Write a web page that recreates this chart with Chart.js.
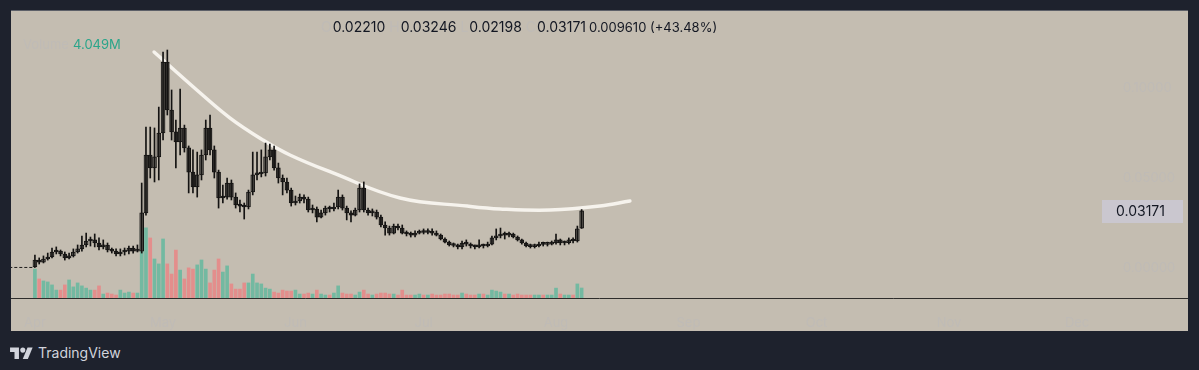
<!DOCTYPE html>
<html>
<head>
<meta charset="utf-8">
<script src="https://cdn.jsdelivr.net/npm/chart.js@4"></script>
<style>
  html, body { margin: 0; padding: 0; width: 1199px; height: 370px; overflow: hidden; background: #1e222d; font-family: Inter, "Noto Sans", sans-serif; }
  #panel { position: absolute; left: 11px; top: 10px; width: 1177px; height: 321px; background: #c4bdb1; border-top: 1px solid #5d6068; box-sizing: border-box; }
  #panel canvas { position: absolute; left: 0; top: 0; }
  #brand { position: absolute; left: 10px; top: 343px; height: 18px; display: flex; align-items: center; color: #d1d4dc; font-size: 14px; }
  #brand svg { margin-right: 5px; }
</style>
</head>
<body>
<div id="panel"><canvas id="chart" width="1177" height="320"></canvas></div>
<div id="brand">
  <svg width="23" height="14" viewBox="0 0 36 22"><path fill="#d1d4dc" d="M14 22H7V11H0V4h14v18z"/><circle fill="#d1d4dc" cx="20" cy="8" r="4"/><path fill="#d1d4dc" d="M28 22h-8l7.5-18h8L28 22z"/></svg>
  <span>TradingView</span>
</div>
<script>
// daily candles, index 0 = 1 Apr
const opens = [
  0.0006,0.0044,0.0033,0.0050,0.0061,0.0089,0.0094,0.0078,0.0056,0.0067,
  0.0089,0.0106,0.0128,0.0150,0.0156,0.0139,0.0117,0.0128,0.0100,0.0094,
  0.0078,0.0089,0.0094,0.0111,0.0094,0.0094,0.0306,0.0628,0.0556,0.0617,
  0.0750,0.1144,0.0878,0.0756,0.0700,0.0778,0.0667,0.0533,0.0450,0.0517,
  0.0628,0.0778,0.0656,0.0533,0.0389,0.0394,0.0472,0.0394,0.0350,0.0344,
  0.0339,0.0422,0.0517,0.0522,0.0528,0.0617,0.0656,0.0556,0.0500,0.0478,
  0.0433,0.0361,0.0372,0.0394,0.0383,0.0322,0.0328,0.0283,0.0306,0.0333,
  0.0328,0.0339,0.0394,0.0333,0.0306,0.0294,0.0322,0.0444,0.0322,0.0306,
  0.0311,0.0283,0.0239,0.0222,0.0194,0.0233,0.0222,0.0194,0.0189,0.0183,
  0.0194,0.0200,0.0197,0.0200,0.0194,0.0183,0.0161,0.0144,0.0128,0.0125,
  0.0117,0.0139,0.0133,0.0122,0.0117,0.0128,0.0122,0.0133,0.0167,0.0178,
  0.0189,0.0183,0.0189,0.0172,0.0156,0.0139,0.0122,0.0119,0.0122,0.0133,
  0.0131,0.0133,0.0139,0.0156,0.0139,0.0141,0.0156,0.0150,0.02210
];
const highs = [
  0.0072,0.0056,0.0067,0.0083,0.0111,0.0117,0.0100,0.0089,0.0083,0.0106,
  0.0128,0.0178,0.0194,0.0172,0.0189,0.0167,0.0156,0.0139,0.0111,0.0106,
  0.0106,0.0111,0.0122,0.0122,0.0128,0.0472,0.0783,0.0783,0.0778,0.0894,
  0.1200,0.1211,0.0989,0.0822,0.0994,0.0794,0.0678,0.0656,0.0644,0.0656,
  0.0822,0.0850,0.0678,0.0544,0.0461,0.0500,0.0489,0.0417,0.0378,0.0361,
  0.0433,0.0644,0.0644,0.0656,0.0694,0.0689,0.0678,0.0583,0.0517,0.0500,
  0.0444,0.0400,0.0411,0.0406,0.0394,0.0350,0.0339,0.0322,0.0344,0.0344,
  0.0361,0.0433,0.0406,0.0344,0.0317,0.0333,0.0467,0.0478,0.0333,0.0328,
  0.0322,0.0294,0.0256,0.0233,0.0244,0.0244,0.0239,0.0206,0.0200,0.0206,
  0.0211,0.0217,0.0217,0.0217,0.0206,0.0189,0.0167,0.0150,0.0139,0.0133,
  0.0150,0.0156,0.0139,0.0128,0.0156,0.0133,0.0144,0.0178,0.0217,0.0222,
  0.0200,0.0200,0.0194,0.0178,0.0161,0.0144,0.0133,0.0133,0.0144,0.0144,
  0.0144,0.0150,0.0189,0.0161,0.0150,0.0167,0.0167,0.0233,0.03246
];
const lows = [
  0.0003,0.0022,0.0028,0.0044,0.0056,0.0078,0.0067,0.0044,0.0050,0.0061,
  0.0083,0.0094,0.0117,0.0122,0.0117,0.0100,0.0106,0.0089,0.0083,0.0067,
  0.0067,0.0072,0.0078,0.0083,0.0089,0.0083,0.0294,0.0500,0.0478,0.0489,
  0.0711,0.0850,0.0711,0.0556,0.0628,0.0644,0.0417,0.0417,0.0394,0.0489,
  0.0600,0.0628,0.0500,0.0333,0.0361,0.0383,0.0378,0.0333,0.0311,0.0272,
  0.0328,0.0406,0.0489,0.0506,0.0511,0.0600,0.0544,0.0472,0.0406,0.0417,
  0.0344,0.0350,0.0361,0.0361,0.0311,0.0306,0.0256,0.0278,0.0294,0.0311,
  0.0317,0.0328,0.0322,0.0267,0.0256,0.0289,0.0311,0.0311,0.0294,0.0289,
  0.0272,0.0228,0.0183,0.0183,0.0189,0.0211,0.0189,0.0178,0.0172,0.0172,
  0.0189,0.0189,0.0189,0.0183,0.0178,0.0156,0.0139,0.0122,0.0117,0.0106,
  0.0106,0.0122,0.0111,0.0106,0.0111,0.0111,0.0117,0.0128,0.0156,0.0167,
  0.0161,0.0172,0.0167,0.0150,0.0133,0.0117,0.0111,0.0111,0.0117,0.0122,
  0.0122,0.0128,0.0133,0.0128,0.0128,0.0133,0.0139,0.0144,0.02198
];
const closes = [
  0.0044,0.0033,0.0050,0.0061,0.0089,0.0094,0.0078,0.0056,0.0067,0.0089,
  0.0106,0.0128,0.0150,0.0156,0.0139,0.0117,0.0128,0.0100,0.0094,0.0078,
  0.0089,0.0094,0.0111,0.0094,0.0100,0.0306,0.0628,0.0556,0.0617,0.0750,
  0.1144,0.0878,0.0756,0.0700,0.0778,0.0667,0.0533,0.0450,0.0517,0.0628,
  0.0778,0.0656,0.0533,0.0389,0.0394,0.0472,0.0394,0.0350,0.0344,0.0339,
  0.0422,0.0517,0.0522,0.0528,0.0617,0.0656,0.0556,0.0500,0.0478,0.0433,
  0.0361,0.0372,0.0394,0.0383,0.0322,0.0328,0.0283,0.0306,0.0333,0.0328,
  0.0339,0.0394,0.0333,0.0306,0.0294,0.0322,0.0444,0.0322,0.0306,0.0311,
  0.0283,0.0239,0.0222,0.0194,0.0233,0.0222,0.0194,0.0189,0.0183,0.0194,
  0.0200,0.0197,0.0200,0.0194,0.0183,0.0161,0.0144,0.0128,0.0125,0.0117,
  0.0139,0.0133,0.0122,0.0117,0.0128,0.0122,0.0133,0.0167,0.0178,0.0189,
  0.0183,0.0189,0.0172,0.0156,0.0139,0.0122,0.0119,0.0122,0.0133,0.0131,
  0.0133,0.0139,0.0156,0.0139,0.0141,0.0156,0.0150,0.0217,0.03171
];
// volume in millions
const volumes = [
  11.7,7.7,6.9,6.5,5.3,3.2,3.2,5.3,7.3,4.5,
  6.1,4.9,4.0,3.2,3.2,4.9,1.6,2.0,1.6,1.2,
  3.2,2.0,2.4,2.0,2.0,28.8,28.4,24.3,15.8,13.8,
  23.9,13.8,9.7,19.4,11.3,7.7,12.2,11.7,13.4,15.4,
  11.7,6.1,11.3,15.8,10.5,13.0,5.7,3.6,3.6,6.1,
  6.1,9.7,6.1,5.7,4.0,3.6,2.4,2.0,3.2,2.8,
  2.8,3.2,1.6,1.6,2.0,1.6,3.2,1.6,1.2,1.2,
  2.0,4.9,2.0,1.6,1.6,1.2,2.4,3.2,1.6,1.2,
  1.6,2.0,2.0,1.6,1.6,1.2,3.2,1.2,1.2,1.2,
  1.6,1.2,1.2,1.6,1.2,1.2,1.6,1.6,1.2,1.2,
  2.0,1.6,1.2,1.2,1.6,1.6,1.2,3.2,2.8,2.4,
  1.6,1.6,1.2,1.6,1.2,1.2,1.2,1.2,1.2,1.2,
  1.2,1.2,4.0,1.6,1.2,1.2,1.2,5.7,4.049
];
// hand-drawn cup curve (day index, price)
const cupDays = [27.9, 37.9, 45.7, 53.4, 59.7, 69.8, 85.5, 101.2, 108.9, 120.6, 132.3, 139.3];
const cupPrices = [0.1200, 0.0989, 0.0833, 0.0711, 0.0628, 0.0528, 0.0389, 0.0344, 0.0328, 0.0322, 0.0344, 0.0372];
// dashed line before the first candle
const preDays = [-6, 0];
const prePrices = [0.0003, 0.0003];

const monthTicks = [0, 30, 61, 91, 122, 153, 183, 214, 244];
const monthLabels = ['Apr', 'May', 'Jun', 'Jul', 'Aug', 'Sep', 'Oct', 'Nov', 'Dec'];
const priceTicks = [0, 0.05, 0.10];

const faint = '#bfbbb6';
const isUp = closes.map((c, i) => c >= opens[i]);

const tvOverlay = {
  id: 'tvOverlay',
  afterDraw(chart) {
    const { ctx, chartArea, scales } = chart;
    const last = closes.length - 1;
    ctx.save();
    // bottom separator
    ctx.strokeStyle = '#2e2d2b';
    ctx.lineWidth = 1;
    ctx.beginPath();
    ctx.moveTo(0, chartArea.bottom + 0.5);
    ctx.lineTo(chart.width, chartArea.bottom + 0.5);
    ctx.stroke();

    // last price tag
    const y = scales.y.getPixelForValue(closes[last]);
    ctx.fillStyle = '#cac7cf';
    ctx.fillRect(chartArea.right - 2, Math.round(y) - 11, 81, 23);
    ctx.fillStyle = '#131722';
    ctx.font = '14px Inter';
    ctx.textBaseline = 'middle';
    ctx.fillText(closes[last].toFixed(5), chartArea.right + 12, y + 0.5);

    // legend line: O H L C change
    const o = opens[last], c = closes[last];
    const chg = (c - o).toFixed(6) + ' (+' + ((c - o) / o * 100).toFixed(2) + '%)';
    const parts = [['O', o.toFixed(5)], ['H', highs[last].toFixed(5)], ['L', lows[last].toFixed(5)], ['C', c.toFixed(5)]];
    let x = 310;
    parts.forEach(([k, v]) => {
      ctx.fillStyle = faint;
      ctx.fillText(k, x, 17);
      x += ctx.measureText(k).width + 1;
      ctx.fillStyle = '#131722';
      ctx.fillText(v, x, 17);
      x += ctx.measureText(v).width + 4;
    });
    ctx.font = '13px Inter';
    ctx.fillText(chg, x - 1, 17);

    // volume legend
    ctx.fillStyle = faint;
    ctx.fillText('Volume', 12, 34);
    ctx.fillStyle = '#2aa58a';
    ctx.fillText(volumes[last].toFixed(3) + 'M', 62, 34);
    ctx.restore();
  }
};

new Chart(document.getElementById('chart'), {
  type: 'bar',
  data: {
    datasets: [
      {
        type: 'line',
        data: preDays.map((d, i) => ({ x: d, y: prePrices[i] })),
        borderColor: '#1d1c1a',
        borderWidth: 1,
        borderDash: [3, 2],
        pointRadius: 0,
        order: 0
      },
      {
        data: closes.map((c, i) => ({ x: i, y: [lows[i], highs[i]] })),
        backgroundColor: '#141312',
        barThickness: 1,
        grouped: false,
        order: 1
      },
      {
        data: closes.map((c, i) => ({ x: i, y: [opens[i], c] })),
        backgroundColor: isUp.map(u => u ? '#7a766f' : '#45423e'),
        borderColor: '#141312',
        borderWidth: 1,
        borderSkipped: false,
        barThickness: 4,
        minBarLength: 2,
        grouped: false,
        order: 1
      },
      {
        type: 'line',
        data: cupDays.map((d, i) => ({ x: d, y: cupPrices[i] })),
        borderColor: '#f6f3ed',
        borderWidth: 3.5,
        borderCapStyle: 'round',
        tension: 0.4,
        pointRadius: 0,
        order: 2
      },
      {
        data: volumes.map((v, i) => ({ x: i, y: v })),
        yAxisID: 'yv',
        backgroundColor: isUp.map(u => u ? '#73b9a1' : '#e38e8c'),
        barThickness: 3,
        grouped: false,
        order: 3
      }
    ]
  },
  options: {
    responsive: false,
    animation: false,
    devicePixelRatio: 1,
    layout: { padding: { top: 19, left: 0, right: 0, bottom: 0 } },
    plugins: { legend: { display: false }, tooltip: { enabled: false } },
    scales: {
      x: {
        type: 'linear',
        min: -5.6,
        max: 250.3,
        offset: false,
        grid: { display: false },
        border: { display: false },
        afterBuildTicks: axis => { axis.ticks = monthTicks.map(v => ({ value: v })); },
        afterFit: axis => { axis.height = 33; },
        ticks: {
          autoSkip: false,
          maxRotation: 0,
          padding: 9,
          color: faint,
          font: { family: 'Inter', size: 13 },
          callback: (v, i) => monthLabels[i]
        }
      },
      y: {
        position: 'right',
        min: -0.016667,
        max: 0.132222,
        grid: { display: false },
        border: { display: false },
        afterBuildTicks: axis => { axis.ticks = priceTicks.map(v => ({ value: v })); },
        afterFit: axis => { axis.width = 84; },
        ticks: {
          padding: 11,
          color: faint,
          font: { family: 'Inter', size: 13 },
          callback: v => v.toFixed(5)
        }
      },
      yv: {
        display: false,
        min: 0,
        max: 108.5
      }
    }
  },
  plugins: [tvOverlay]
});
</script>
</body>
</html>
